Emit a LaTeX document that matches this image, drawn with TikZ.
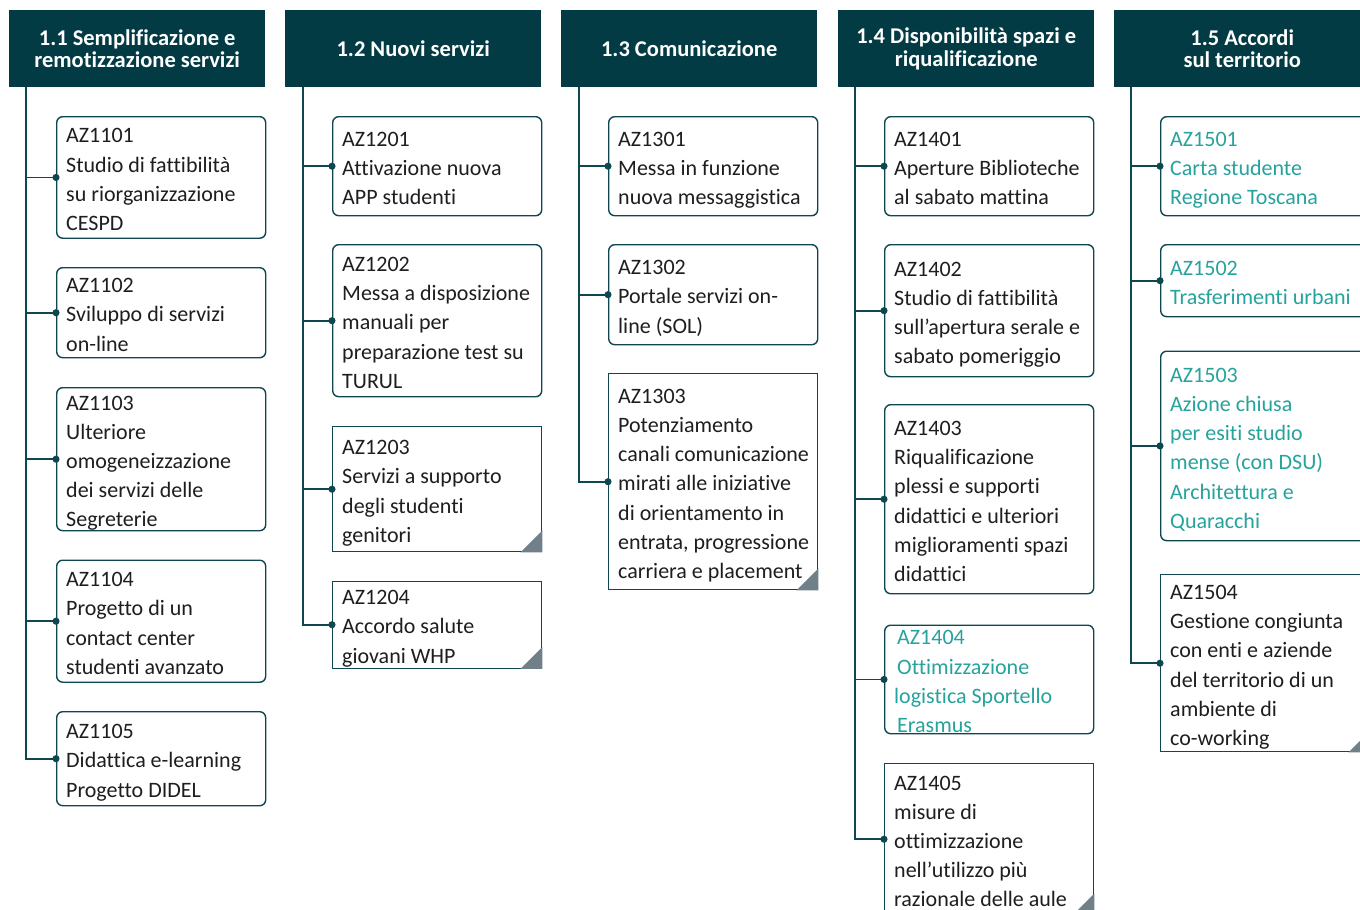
\documentclass[tikz,border=0pt]{standalone}
\usepackage{fontspec}
\setmainfont{Carlito}[Ligatures={TeX,NoCommon}]
\usepackage{xcolor}
\usepackage{tikz}
\usetikzlibrary{positioning,arrows.meta}

\definecolor{headteal}{HTML}{033B44}
\definecolor{lineteal}{HTML}{0F4750}
\definecolor{lightteal}{HTML}{26A39C}
\definecolor{foldgray}{HTML}{6F8089}
\definecolor{bodytext}{HTML}{1E1E1E}

\begin{document}
\begin{tikzpicture}[x=1pt, y=-1pt,
    header/.style={rectangle, fill=headteal, text=white, anchor=north west, align=center,
        minimum width=256pt, minimum height=77pt, inner sep=0pt,
        font=\fontsize{22.5}{22.5}\selectfont\bfseries},
    roundbox/.style={rectangle, draw=lineteal, line width=1.4pt, rounded corners=6pt, fill=white,
        anchor=north west, minimum width=209pt, inner sep=0pt},
    foldbox/.style={roundbox, sharp corners},
    fold/.style={fill=foldgray},
    aztext/.style={anchor=west, align=left, inner sep=0pt, text=bodytext, yshift=-4pt,
        font=\fontsize{22}{29.2}\selectfont, execute at end node={\vphantom{g}}},
    aztealtext/.style={aztext, text=lightteal},
    spine/.style={draw=lineteal, line width=1.6pt, -{Circle[length=7pt]}, shorten >=-3.5pt}
]
    \useasboundingbox (0,0) rectangle (1360,910);

    % Headers
    \node[header] (h11) at (9,10) {1.1 Semplificazione e\\remotizzazione servizi};
    \node[header] (h12) at (285,10) {1.2 Nuovi servizi};
    \node[header] (h13) at (561,10) {1.3 Comunicazione};
    \node[header] (h14) at (838,10) {1.4 Disponibilità spazi e\\riqualificazione};
    \node[header] (h15) at (1114,10) {1.5 Accordi\\sul territorio};

    % Column 1.1
    \node[roundbox, minimum height=121.5pt] (az1101) at (56,116) {};
    \node[roundbox, minimum height=90pt] (az1102) at (56,267) {};
    \node[roundbox, minimum height=143pt] (az1103) at (56,387) {};
    \node[roundbox, minimum height=122pt] (az1104) at (56,559.5) {};
    \node[roundbox, minimum height=94pt] (az1105) at (56,711) {};
    \node[aztext] (t1101) at ([xshift=10pt]az1101.west) {AZ1101\\Studio di fattibilità\\su riorganizzazione\\CESPD};
    \node[aztext] (t1102) at ([xshift=10pt]az1102.west) {AZ1102\\Sviluppo di servizi\\on-line};
    \node[aztext] (t1103) at ([xshift=10pt]az1103.west) {AZ1103\\Ulteriore\\omogeneizzazione\\dei servizi delle\\Segreterie};
    \node[aztext] (t1104) at ([xshift=10pt]az1104.west) {AZ1104\\Progetto di un\\contact center\\studenti avanzato};
    \node[aztext] (t1105) at ([xshift=10pt]az1105.west) {AZ1105\\Didattica e-learning\\Progetto DIDEL};

    % Column 1.2
    \node[roundbox, minimum height=99pt] (az1201) at (332,116) {};
    \node[roundbox, minimum height=152pt] (az1202) at (332,244) {};
    \node[foldbox, minimum height=125pt] (az1203) at (332,426) {};
    \node[foldbox, minimum height=87pt] (az1204) at (332,580.5) {};
    \fill[fold] (az1203.south east) -- ++(-22,0) -- ++(22,-22) -- cycle;
    \fill[fold] (az1204.south east) -- ++(-22,0) -- ++(22,-22) -- cycle;
    \node[aztext] (t1201) at ([xshift=10pt]az1201.west) {AZ1201\\Attivazione nuova\\APP studenti};
    \node[aztext] (t1202) at ([xshift=10pt]az1202.west) {AZ1202\\Messa a disposizione\\manuali per\\preparazione test su\\TURUL};
    \node[aztext] (t1203) at ([xshift=10pt]az1203.west) {AZ1203\\Servizi a supporto\\degli studenti\\genitori};
    \node[aztext] (t1204) at ([xshift=10pt]az1204.west) {AZ1204\\Accordo salute\\giovani WHP};

    % Column 1.3
    \node[roundbox, minimum height=99pt] (az1301) at (608,116) {};
    \node[roundbox, minimum height=100pt] (az1302) at (608,244) {};
    \node[foldbox, minimum height=216pt] (az1303) at (608,373) {};
    \fill[fold] (az1303.south east) -- ++(-22,0) -- ++(22,-22) -- cycle;
    \node[aztext] (t1301) at ([xshift=10pt]az1301.west) {AZ1301\\Messa in funzione\\nuova messaggistica};
    \node[aztext] (t1302) at ([xshift=10pt]az1302.west) {AZ1302\\Portale servizi on-\\line (SOL)};
    \node[aztext] (t1303) at ([xshift=10pt]az1303.west) {AZ1303\\Potenziamento\\canali comunicazione\\mirati alle iniziative\\di orientamento in\\entrata, progressione\\carriera e placement};

    % Column 1.4
    \node[roundbox, minimum height=99pt] (az1401) at (884,116) {};
    \node[roundbox, minimum height=132pt] (az1402) at (884,244) {};
    \node[roundbox, minimum height=189pt] (az1403) at (884,404) {};
    \node[roundbox, minimum height=108.5pt] (az1404) at (884,624.5) {};
    \node[foldbox, minimum height=151pt] (az1405) at (884,763) {};
    \fill[fold] (az1405.south east) -- ++(-22,0) -- ++(22,-22) -- cycle;
    \node[aztext] (t1401) at ([xshift=10pt]az1401.west) {AZ1401\\Aperture Biblioteche\\al sabato mattina};
    \node[aztext] (t1402) at ([xshift=10pt]az1402.west) {AZ1402\\Studio di fattibilità\\sull'apertura serale e\\sabato pomeriggio};
    \node[aztext] (t1403) at ([xshift=10pt]az1403.west) {AZ1403\\Riqualificazione\\plessi e supporti\\didattici e ulteriori\\miglioramenti spazi\\didattici};
    \node[aztealtext] (t1404) at ([xshift=10pt]az1404.west) {\hspace*{3pt}AZ1404\\\hspace*{3pt}Ottimizzazione\\logistica Sportello\\\hspace*{3pt}Erasmus};
    \node[aztext] (t1405) at ([xshift=10pt]az1405.west) {AZ1405\\misure di\\ottimizzazione\\nell'utilizzo più\\razionale delle aule};

    % Column 1.5
    \node[roundbox, minimum height=99pt] (az1501) at (1160,116) {};
    \node[roundbox, minimum height=72pt] (az1502) at (1160,244) {};
    \node[roundbox, minimum height=189.5pt] (az1503) at (1160,350.5) {};
    \node[foldbox, minimum height=177pt] (az1504) at (1160,574) {};
    \fill[fold] (az1504.south east) -- ++(-22,0) -- ++(22,-22) -- cycle;
    \node[aztealtext] (t1501) at ([xshift=10pt]az1501.west) {AZ1501\\Carta studente\\Regione Toscana};
    \node[aztealtext] (t1502) at ([xshift=10pt]az1502.west) {AZ1502\\Trasferimenti urbani};
    \node[aztealtext] (t1503) at ([xshift=10pt]az1503.west) {AZ1503\\Azione chiusa\\per esiti studio\\mense (con DSU)\\Architettura e\\Quaracchi};
    \node[aztext] (t1504) at ([xshift=10pt]az1504.west) {AZ1504\\Gestione congiunta\\con enti e aziende\\del territorio di un\\ambiente di\\co-working};

    % Spines and branches
    \coordinate (s11) at (26,87);
    \coordinate (s12) at (303,87);
    \coordinate (s13) at (579,87);
    \coordinate (s14) at (855,87);
    \coordinate (s15) at (1131,87);

    \draw[spine] (s11) |- (az1105.west);
    \draw[spine] (s11 |- az1101.west) -- (az1101.west);
    \draw[spine] (s11 |- az1102.west) -- (az1102.west);
    \draw[spine] (s11 |- az1103.west) -- (az1103.west);
    \draw[spine] (s11 |- az1104.west) -- (az1104.west);

    \draw[spine] (s12) |- (az1204.west);
    \draw[spine] (s12 |- az1201.west) -- (az1201.west);
    \draw[spine] (s12 |- az1202.west) -- (az1202.west);
    \draw[spine] (s12 |- az1203.west) -- (az1203.west);

    \draw[spine] (s13) |- (az1303.west);
    \draw[spine] (s13 |- az1301.west) -- (az1301.west);
    \draw[spine] (s13 |- az1302.west) -- (az1302.west);

    \draw[spine] (s14) |- (az1405.west);
    \draw[spine] (s14 |- az1401.west) -- (az1401.west);
    \draw[spine] (s14 |- az1402.west) -- (az1402.west);
    \draw[spine] (s14 |- az1403.west) -- (az1403.west);
    \draw[spine] (s14 |- az1404.west) -- (az1404.west);

    \draw[spine] (s15) |- (az1504.west);
    \draw[spine] (s15 |- az1501.west) -- (az1501.west);
    \draw[spine] (s15 |- az1502.west) -- (az1502.west);
    \draw[spine] (s15 |- az1503.west) -- (az1503.west);
\end{tikzpicture}
\end{document}
